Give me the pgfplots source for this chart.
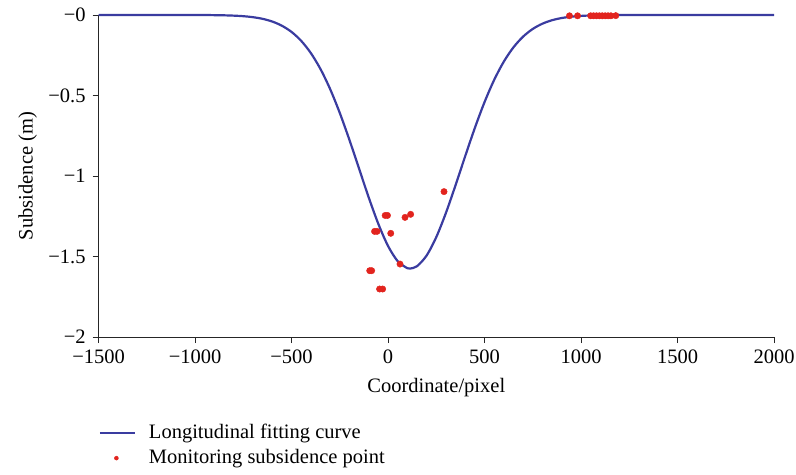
\documentclass[border=0pt]{standalone}
\usepackage{fontspec}
\setmainfont{Liberation Serif}
\usepackage{pgfplots}
\pgfplotsset{compat=1.18}
\definecolor{curveblue}{RGB}{58,60,160}
\definecolor{ptred}{RGB}{226,36,30}
\pgfplotsset{
  lineleg/.style={legend image code/.code={\draw[##1] (0bp,0bp) -- (35bp,0bp);}},
  dotleg/.style={legend image code/.code={\path[draw=none,fill=none] (0bp,0bp) -- (35bp,0bp);
    \draw[##1, mark size=2bp, draw=none] plot[mark=*, mark options={draw=ptred,fill=ptred}] coordinates {(16.5bp,0bp)};}},
}
\pgfplotstableread{
x y
-1500 0
-1000 0
-900 -0.001
-850 -0.002
-800 -0.004
-750 -0.0074
-700 -0.0136
-650 -0.0239
-600 -0.0406
-550 -0.0667
-500 -0.1053
-450 -0.1608
-400 -0.2367
-350 -0.3361
-300 -0.4605
-250 -0.6089
-200 -0.7765
-150 -0.9553
-100 -1.134
-50 -1.2986
0 -1.4348
50 -1.5293
100 -1.5728
114 -1.575
150 -1.5604
200 -1.4936
250 -1.3792
300 -1.2288
350 -1.0562
400 -0.8758
450 -0.7007
500 -0.5409
550 -0.4027
600 -0.2893
650 -0.2005
700 -0.1341
750 -0.0865
800 -0.0539
850 -0.0323
900 -0.0187
950 -0.0105
1000 -0.0056
1050 -0.0029
1100 -0.0015
1150 -0.0007
1250 0
2000 0
}\curvedata
\pgfplotstableread{
x y
290 -1.097
-15 -1.245
-3 -1.245
88 -1.257
117 -1.238
-70 -1.344
-57 -1.344
14 -1.356
62 -1.547
-95 -1.588
-85 -1.588
-44 -1.702
-28 -1.702
940 -0.005
982 -0.005
1050 -0.005
1065 -0.005
1080 -0.005
1095 -0.005
1110 -0.005
1125 -0.005
1140 -0.005
1155 -0.005
1180 -0.004
}\pointdata
\begin{document}
\fontsize{20.5bp}{24bp}\selectfont
\begin{tikzpicture}
\begin{axis}[
  scale only axis, width=675.4bp, height=322bp,
  xmin=-1500, xmax=2000, ymin=-2, ymax=0,
  axis lines=left, axis line style={-, black!85, line width=0.8bp},
  tick align=outside, major tick length=6bp,
  tick style={black!85, line width=0.8bp},
  xtick={-1500,-1000,-500,0,500,1000,1500,2000},
  xticklabels={−1500,−1000,−500,0,500,1000,1500,2000},
  ytick={-2,-1.5,-1,-0.5,0},
  yticklabels={−2,−1.5,−1,−0.5,−0},
  ticklabel style={font=\fontsize{20.5bp}{24bp}\selectfont},
  xlabel={Coordinate/pixel}, ylabel={Subsidence (m)},
  label style={font=\fontsize{20.5bp}{24bp}\selectfont},
  xlabel style={at={(axis description cs:0.5,-0.158)}, anchor=center},
  ylabel style={at={(axis description cs:-0.105,0.5)}, anchor=center},
  clip=false,
  legend cell align=left,
  legend style={at={(axis description cs:0,-0.27)}, anchor=north west,
    draw=none, fill=none, inner sep=0pt, row sep=7bp,
    font=\fontsize{20.5bp}{24bp}\selectfont,
    nodes={inner sep=0bp, text height=14bp, text depth=4bp},
    /tikz/every odd column/.style={column sep=13bp}},
]
\addplot[curveblue, line width=2.2bp, smooth, lineleg]
  table[x=x,y=y] {\curvedata};
\addlegendentry{Longitudinal fitting curve}
\addplot[only marks, mark=*, mark size=3.2bp, color=ptred,
  mark options={draw=ptred, fill=ptred}, dotleg]
  table[x=x,y=y] {\pointdata};
\addlegendentry{Monitoring subsidence point}
\end{axis}
\pgfresetboundingbox
\path[use as bounding box] (-98.6bp,-138bp) rectangle (697.4bp,337bp);
\end{tikzpicture}
\end{document}
